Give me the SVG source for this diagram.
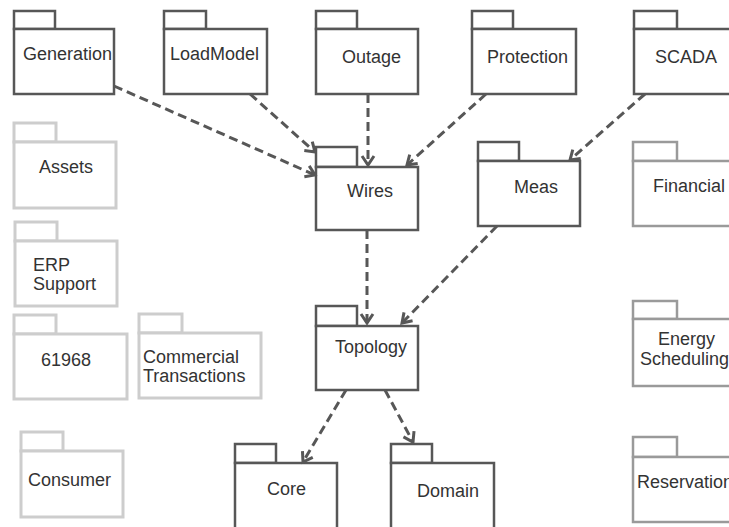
<svg xmlns="http://www.w3.org/2000/svg" width="729" height="527" viewBox="0 0 729 527">
  <style>
    .pkg rect { fill: #ffffff; stroke-width: 2.5; }
    .dark rect { stroke: #575757; }
    .mid rect { stroke: #9a9a9a; }
    .light rect { stroke: #cdcdcd; stroke-width: 3; }
    .pkg text { font-family: "Liberation Sans", Arial, sans-serif; font-size: 18px; fill: #333333; }
    .dep { fill: none; stroke: #575757; stroke-width: 3; stroke-dasharray: 9 5; marker-end: url(#arrow); }
  </style>
  <defs>
    <marker id="arrow" markerUnits="userSpaceOnUse" markerWidth="16" markerHeight="16" viewBox="0 0 16 16" refX="12" refY="8" orient="auto">
      <path d="M3,2 L12,8 L3,14" fill="none" stroke="#575757" stroke-width="3"/>
    </marker>
  </defs>
  <rect width="729" height="527" fill="#ffffff"/>

  <!-- top row -->
  <g id="generation" class="pkg dark">
    <rect x="14" y="11" width="41" height="18"/>
    <rect x="14" y="29" width="100" height="65"/>
    <text x="23" y="60">Generation</text>
  </g>
  <g id="loadmodel" class="pkg dark">
    <rect x="164" y="11" width="42" height="18"/>
    <rect x="164" y="29" width="103" height="65"/>
    <text x="170" y="60">LoadModel</text>
  </g>
  <g id="outage" class="pkg dark">
    <rect x="316" y="11" width="41" height="18"/>
    <rect x="316" y="29" width="102" height="65"/>
    <text x="342" y="63">Outage</text>
  </g>
  <g id="protection" class="pkg dark">
    <rect x="472" y="11" width="41" height="18"/>
    <rect x="472" y="29" width="104" height="65"/>
    <text x="487" y="63">Protection</text>
  </g>
  <g id="scada" class="pkg dark">
    <rect x="634" y="11" width="43" height="18"/>
    <rect x="634" y="29" width="104" height="65"/>
    <text x="655" y="63">SCADA</text>
  </g>

  <!-- core dependency chain -->
  <g id="wires" class="pkg dark">
    <rect x="316" y="147" width="41" height="20"/>
    <rect x="316" y="167" width="102" height="63"/>
    <text x="347" y="197">Wires</text>
  </g>
  <g id="meas" class="pkg dark">
    <rect x="478" y="142" width="41" height="19"/>
    <rect x="478" y="161" width="102" height="65"/>
    <text x="514" y="193">Meas</text>
  </g>
  <g id="topology" class="pkg dark">
    <rect x="316" y="306" width="41" height="20"/>
    <rect x="316" y="326" width="102" height="64"/>
    <text x="335" y="353">Topology</text>
  </g>
  <g id="core" class="pkg dark">
    <rect x="235" y="444" width="41" height="19"/>
    <rect x="235" y="463" width="102" height="66"/>
    <text x="267" y="495">Core</text>
  </g>
  <g id="domain" class="pkg dark">
    <rect x="391" y="444" width="41" height="19"/>
    <rect x="391" y="463" width="103" height="66"/>
    <text x="417" y="497">Domain</text>
  </g>

  <!-- left column -->
  <g id="assets" class="pkg light">
    <rect x="14" y="123" width="42" height="19"/>
    <rect x="14" y="142" width="102" height="66"/>
    <text x="39" y="173">Assets</text>
  </g>
  <g id="erp-support" class="pkg light">
    <rect x="15" y="222" width="42" height="19"/>
    <rect x="15" y="241" width="102" height="65"/>
    <text x="33" y="271">ERP</text>
    <text x="33" y="290">Support</text>
  </g>
  <g id="iec61968" class="pkg light">
    <rect x="14" y="315" width="42" height="19"/>
    <rect x="14" y="334" width="113" height="65"/>
    <text x="41" y="366">61968</text>
  </g>
  <g id="commercial-transactions" class="pkg light">
    <rect x="139" y="314" width="43" height="19"/>
    <rect x="139" y="333" width="122" height="65"/>
    <text x="143" y="363">Commercial</text>
    <text x="143" y="382">Transactions</text>
  </g>
  <g id="consumer" class="pkg light">
    <rect x="21" y="432" width="42" height="19"/>
    <rect x="21" y="451" width="102" height="66"/>
    <text x="28" y="486">Consumer</text>
  </g>

  <!-- right column -->
  <g id="financial" class="pkg mid">
    <rect x="633" y="142" width="44" height="19"/>
    <rect x="633" y="161" width="110" height="65"/>
    <text x="653" y="192">Financial</text>
  </g>
  <g id="energy-scheduling" class="pkg mid">
    <rect x="633" y="301" width="44" height="18"/>
    <rect x="633" y="319" width="110" height="67"/>
    <text x="658" y="345">Energy</text>
    <text x="640" y="365">Scheduling</text>
  </g>
  <g id="reservation" class="pkg mid">
    <rect x="633" y="437" width="44" height="20"/>
    <rect x="633" y="457" width="110" height="65"/>
    <text x="637" y="488">Reservation</text>
  </g>

  <!-- dependencies -->
  <g id="connectors">
    <line class="dep" x1="114" y1="86" x2="315" y2="175"/>
    <line class="dep" x1="250" y1="94" x2="315" y2="152"/>
    <line class="dep" x1="368" y1="94" x2="368" y2="165"/>
    <line class="dep" x1="486" y1="94" x2="407" y2="165"/>
    <line class="dep" x1="645" y1="94" x2="570" y2="160"/>
    <line class="dep" x1="367" y1="230" x2="367" y2="323"/>
    <line class="dep" x1="497" y1="226" x2="402" y2="323"/>
    <line class="dep" x1="346" y1="390" x2="303" y2="462"/>
    <line class="dep" x1="385" y1="390" x2="413" y2="442"/>
  </g>
</svg>
